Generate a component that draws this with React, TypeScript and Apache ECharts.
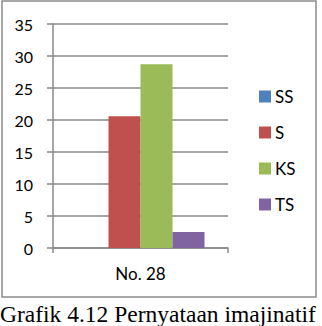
import React, { useEffect, useRef } from "react";
import * as echarts from "echarts";

const categories = ["No. 28"];
const seriesNames = ["SS", "S", "KS", "TS"];
const ssValues = [0];
const sValues = [20.6];
const ksValues = [28.7];
const tsValues = [2.5];
const colors = ["#4F81BD", "#C0504D", "#9BBB59", "#8064A2"];
const yTicks = { min: 0, max: 35, interval: 5 };
const caption = "Grafik 4.12 Pernyataan imajinatif";

export default function App() {
  const ref = useRef<HTMLDivElement>(null);
  useEffect(() => {
    document.body.style.margin = "0";
    const chart = echarts.init(ref.current!, null, { renderer: "svg" });
    const values = [ssValues, sValues, ksValues, tsValues];
    chart.setOption({
      animation: false,
      backgroundColor: "#ffffff",
      color: colors,
      grid: { left: 53, right: 94, top: 24, bottom: 78, containLabel: false },
      legend: {
        orient: "vertical",
        left: 259,
        top: 88,
        padding: 0,
        itemWidth: 12,
        itemHeight: 12,
        itemGap: 19,
        icon: "rect",
        textStyle: { fontFamily: "Lato", fontSize: 17, color: "#000", padding: [0, 0, 0, -1] },
        data: seriesNames,
      },
      xAxis: {
        type: "category",
        data: categories,
        axisLine: { lineStyle: { color: "#8a8a8a", width: 1.5 } },
        axisTick: { show: true, length: 5, alignWithLabel: false, lineStyle: { color: "#8a8a8a", width: 1.5 } },
        axisLabel: { fontFamily: "Lato", fontSize: 17, color: "#000", margin: 17 },
      },
      yAxis: {
        type: "value",
        min: yTicks.min,
        max: yTicks.max,
        interval: yTicks.interval,
        axisLine: { show: true, lineStyle: { color: "#8a8a8a", width: 1.5 } },
        axisTick: { show: true, length: 6, lineStyle: { color: "#8a8a8a", width: 1.5 } },
        splitLine: { lineStyle: { color: "#8a8a8a", width: 1.5 } },
        axisLabel: { fontFamily: "Lato", fontSize: 16, color: "#000", margin: 20 },
      },
      series: seriesNames.map((name, i) => ({
        name,
        type: "bar",
        data: values[i],
        barWidth: 32,
        barGap: "0%",
        itemStyle: { color: colors[i] },
      })),
      graphic: [
        {
          type: "rect",
          shape: { x: 2, y: 1, width: 314, height: 296 },
          style: { fill: "none", stroke: "#8c8c8c", lineWidth: 1.5 },
          silent: true,
        },
        {
          type: "text",
          left: 0,
          top: 302,
          style: {
            text: caption,
            font: "23.5px 'Liberation Serif'",
            fill: "#000",
          },
        },
      ],
    });
    return () => chart.dispose();
  }, []);
  return (
    <div
      ref={ref}
      style={{ position: "fixed", left: 0, top: 0, width: 322, height: 326 }}
    />
  );
}
